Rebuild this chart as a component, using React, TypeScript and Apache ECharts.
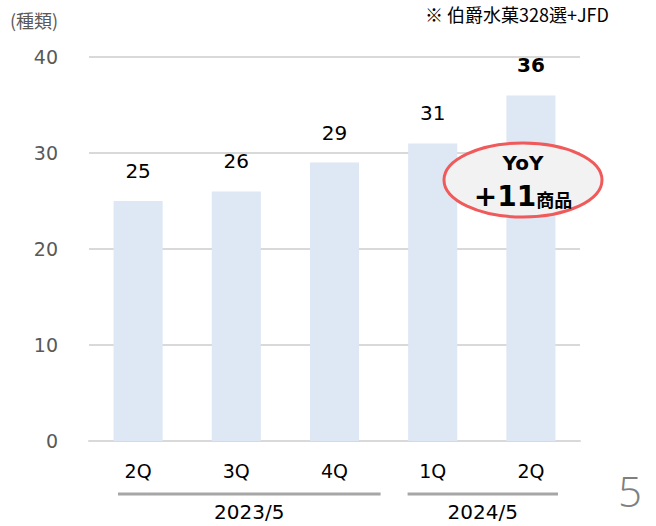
import React, { useEffect, useRef } from "react";
import * as echarts from "echarts";

const categories = ["2Q", "3Q", "4Q", "1Q", "2Q"];
const values = [25, 26, 29, 31, 36];
const yTicks = [0, 10, 20, 30, 40];
const yearGroups = [
  { label: "2023/5", from: 0, to: 2 },
  { label: "2024/5", from: 3, to: 4 },
];
const yoyLine1 = "YoY";
const yoyNum = "+11";
const yoyUnit = "商品";
const unitLabel = "(種類)";
const noteText = "※ 伯爵水菓328選+JFD";
const pageNo = "5";

const FONT = "'DejaVu Sans', 'Noto Sans CJK JP', sans-serif";
const CJK = "'Noto Sans CJK JP', 'DejaVu Sans', sans-serif";

export default function App() {
  const ref = useRef<HTMLDivElement>(null);
  useEffect(() => {
    if (!ref.current) return;
    const chart = echarts.init(ref.current, undefined, { renderer: "svg" });
    const gridLeft = 89;
    const gridRightX = 580;
    const gridTop = 57;
    const gridBottomY = 441;
    const catW = (gridRightX - gridLeft) / categories.length;
    const pads = [
      [29, -3],
      [24, -22],
    ];
    const graphics: any[] = [];
    yearGroups.forEach((g, k) => {
      const x1 = gridLeft + catW * g.from + pads[k][0];
      const x2 = gridLeft + catW * (g.to + 1) + pads[k][1];
      graphics.push({
        type: "line",
        shape: { x1, y1: 494, x2, y2: 494 },
        style: { stroke: "#a6a6a6", lineWidth: 3 },
      });
      graphics.push({
        type: "text",
        x: (x1 + x2) / 2,
        y: 512,
        style: {
          text: g.label,
          fill: "#000",
          font: `20px ${FONT}`,
          textAlign: "center",
          textVerticalAlign: "middle",
        },
      });
    });
    graphics.push(
      {
        type: "text",
        x: 10,
        y: 20,
        style: { text: unitLabel, fill: "#595959", font: `18px ${CJK}`, textVerticalAlign: "middle" },
      },
      {
        type: "text",
        x: 425,
        y: 5,
        style: { text: noteText, fill: "#000", font: `18px ${CJK}`, textVerticalAlign: "top" },
      },
      {
        type: "text",
        x: 630,
        y: 490,
        style: {
          text: pageNo,
          fill: "#7f7f7f",
          font: `300 42px 'Open Sans', 'Noto Sans', sans-serif`,
          textAlign: "center",
          textVerticalAlign: "middle",
        },
      },
      {
        type: "ellipse",
        shape: { cx: 523, cy: 180, rx: 79, ry: 37 },
        style: { fill: "#f2f2f2", stroke: "#f05a5a", lineWidth: 3 },
        z: 10,
      },
      {
        type: "text",
        x: 523,
        y: 163,
        z: 11,
        style: { text: yoyLine1, fill: "#000", font: `bold 20px ${FONT}`, textAlign: "center", textVerticalAlign: "middle" },
      },
      {
        type: "text",
        x: 523,
        y: 196,
        z: 11,
        style: {
          text: `{n|${yoyNum}}{u|${yoyUnit}}`,
          textAlign: "center",
          textVerticalAlign: "middle",
          rich: {
            n: { fill: "#000", fontWeight: "bold", fontSize: 28, fontFamily: FONT },
            u: { fill: "#000", fontWeight: "bold", fontSize: 18, fontFamily: CJK, padding: [6, 0, 0, 0] },
          },
        },
      }
    );
    chart.setOption({
      animation: false,
      backgroundColor: "#fff",
      grid: {
        left: gridLeft,
        right: 656 - gridRightX,
        top: gridTop,
        bottom: 526 - gridBottomY,
        containLabel: false,
      },
      xAxis: {
        type: "category",
        data: categories,
        axisLine: { show: true, lineStyle: { color: "#d9d9d9", width: 2 } },
        axisTick: { show: false },
        axisLabel: { color: "#000", fontSize: 19, fontFamily: FONT, margin: 20 },
      },
      yAxis: {
        type: "value",
        min: yTicks[0],
        max: yTicks[yTicks.length - 1],
        interval: 10,
        splitLine: { lineStyle: { color: "#d9d9d9", width: 2 } },
        axisLine: { show: false },
        axisTick: { show: false },
        axisLabel: { color: "#595959", fontSize: 19, fontFamily: FONT, margin: 31 },
      },
      series: [
        {
          type: "bar",
          data: values.map((v, i) => ({
            value: v,
            label: i === values.length - 1 ? { fontWeight: "bold", distance: 20 } : {},
          })),
          barWidth: "50%",
          itemStyle: { color: "#dde8f4" },
          z: 1,
          label: {
            show: true,
            position: "top",
            distance: 20,
            color: "#000",
            fontSize: 20,
            fontFamily: FONT,
          },
        },
      ],
      graphic: graphics,
    });
    return () => chart.dispose();
  }, []);
  return (
    <div
      ref={ref}
      style={{ position: "fixed", left: 0, top: 0, width: 656, height: 526 }}
    />
  );
}
